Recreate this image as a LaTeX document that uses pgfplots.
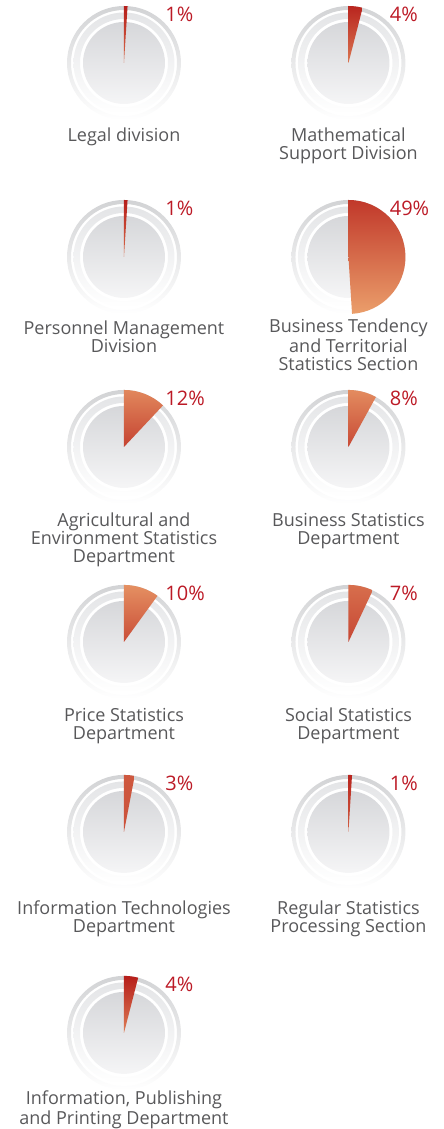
\documentclass[border=0pt]{standalone}
\usepackage{pgfplots}
\usepackage{pgfplotstable}
\pgfplotsset{compat=1.18}
\usepackage{fontspec}
\setmainfont{Open Sans}

\definecolor{wdark}{RGB}{182,30,26}
\definecolor{wpeach}{RGB}{242,176,118}
\definecolor{pctred}{RGB}{188,26,38}
\definecolor{lblgray}{RGB}{88,88,90}
\definecolor{ringA}{RGB}{210,211,213}
\definecolor{ringB}{RGB}{228,229,231}
\definecolor{discT}{RGB}{214,215,218}
\definecolor{discB}{RGB}{245,245,246}

\newcommand\lblfont{\fontsize{9}{8.9}\selectfont}
\newcommand\pctfont{\fontsize{10}{12}\selectfont}
% anchor=base sits on the last line of a multi-line label
\tikzset{lbl/.style={anchor=base, inner sep=0pt, text=lblgray, font=\lblfont, align=center}}

% gauge centre (px), share in percent, wedge shade mix at top / bottom
\pgfplotstableread{
cx    cy    pct mtop mbot
124   63    1   0    55
348.5 63    4   5    60
124   257   1   0    55
348.5 257   49  18   88
124   447   12  72   25
348.5 447   8   75   30
124   642   10  78   32
348.5 642   7   55   28
124   832   3   40   35
348.5 832   1   5    45
124   1033  4   0    65
}\gauges

\begin{document}
\begin{tikzpicture}
\begin{axis}[x=0.5pt, y=0.5pt, xmin=0, xmax=444, ymin=0, ymax=1129,
  y dir=reverse, hide axis, clip=false]
\path (rel axis cs:0,0) rectangle (rel axis cs:1,1);

\addplot[scatter, only marks, mark=*, mark size=0pt, point meta=\thisrow{pct},
  mark options={draw=none, fill=none},
  visualization depends on={\thisrow{pct} \as \pctn},
  visualization depends on={\thisrow{mtop} \as \mtop},
  visualization depends on={\thisrow{mbot} \as \mbot},
  scatter/@pre marker code/.code={%
    \pgfmathtruncatemacro\pcti{\pctn}%
    \pgfmathtruncatemacro\mt{\mtop}%
    \pgfmathtruncatemacro\mb{\mbot}%
    \pgfmathsetmacro\angend{90-3.6*\pctn}%
    \colorlet{wtop}{wpeach!\mt!wdark}%
    \colorlet{wbot}{wpeach!\mb!wdark}%
    \shade[draw=none, top color=ringA, bottom color=white, even odd rule]
      (0,0) circle[radius=28.5pt] (0,0) circle[radius=26.5pt];
    \shade[draw=none, top color=ringB, bottom color=white, even odd rule]
      (0,0) circle[radius=25.25pt] (0,0) circle[radius=22pt];
    \shade[draw=none, top color=discT, bottom color=discB] (0,0) circle[radius=20.5pt];
    \shade[draw=none, top color=wtop, bottom color=wbot]
      (0,0) -- (90:28.5pt) arc[start angle=90, end angle=\angend, radius=28.5pt] -- cycle;
    \node[draw=none, anchor=base west, inner sep=0pt, text=pctred, font=\pctfont]
      at (20.5pt,20.5pt) {\pcti\%};
  },
  scatter/@post marker code/.code={}]
  table[x=cx, y=cy] {\gauges};

\node[lbl] at (axis cs:124,142) {Legal division};
\node[lbl] at (axis cs:348.5,159.8) {Mathematical\\Support Division};
\node[lbl] at (axis cs:124,352.8) {Personnel Management\\Division};
\node[lbl] at (axis cs:348.5,370.6) {Business Tendency\\and Territorial\\Statistics Section};
\node[lbl] at (axis cs:124,562.6) {Agricultural and\\Environment Statistics\\Department};
\node[lbl] at (axis cs:348.5,544.8) {Business Statistics\\Department};
\node[lbl] at (axis cs:124,739.8) {Price Statistics\\Department};
\node[lbl] at (axis cs:348.5,739.8) {Social Statistics\\Department};
\node[lbl] at (axis cs:124,932.8) {Information Technologies\\Department};
\node[lbl] at (axis cs:348.5,932.8) {Regular Statistics\\Processing Section};
\node[lbl] at (axis cs:124,1124.8) {Information, Publishing\\and Printing Department};
\end{axis}
\end{tikzpicture}
\end{document}
